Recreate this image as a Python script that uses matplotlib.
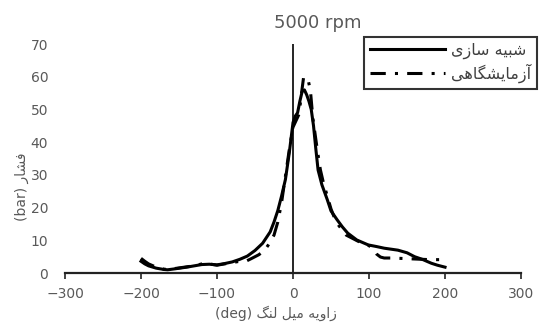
import matplotlib
matplotlib.use("Agg")
import matplotlib.pyplot as plt

plt.rcParams['font.family'] = ['DejaVu Sans']

# simple Persian shaping (matplotlib has no bidi / joining)
FORMS = {
    'ا': ('\uFE8D', '\uFE8E'), 'آ': ('\uFE81', '\uFE82'),
    'ز': ('\uFEAF', '\uFEB0'), 'ر': ('\uFEAD', '\uFEAE'),
    'و': ('\uFEED', '\uFEEE'),
    'ب': ('\uFE8F', '\uFE90', '\uFE91', '\uFE92'),
    'س': ('\uFEB1', '\uFEB2', '\uFEB3', '\uFEB4'),
    'ش': ('\uFEB5', '\uFEB6', '\uFEB7', '\uFEB8'),
    'ف': ('\uFED1', '\uFED2', '\uFED3', '\uFED4'),
    'ل': ('\uFEDD', '\uFEDE', '\uFEDF', '\uFEE0'),
    'م': ('\uFEE1', '\uFEE2', '\uFEE3', '\uFEE4'),
    'ن': ('\uFEE5', '\uFEE6', '\uFEE7', '\uFEE8'),
    'ه': ('\uFEE9', '\uFEEA', '\uFEEB', '\uFEEC'),
    'ی': ('\uFBFC', '\uFBFD', '\uFBFE', '\uFBFF'),
    'گ': ('\uFB92', '\uFB93', '\uFB94', '\uFB95'),
}


def fa(text):
    out = []
    for i, c in enumerate(text):
        if c not in FORMS:
            out.append(c)
            continue
        f = FORMS[c]
        prev = text[i-1] if i > 0 else ''
        nxt = text[i+1] if i < len(text)-1 else ''
        jp = prev in FORMS and len(FORMS[prev]) == 4
        jn = len(f) == 4 and nxt in FORMS
        if len(f) == 2:
            out.append(f[1] if jp else f[0])
        elif jp and jn:
            out.append(f[3])
        elif jp:
            out.append(f[1])
        elif jn:
            out.append(f[2])
        else:
            out.append(f[0])
    return ''.join(reversed(out))


sim_label = 'شبیه سازی'
exp_label = 'آزمایشگاهی'
x_title = 'زاویه میل لنگ'
y_title = 'فشار'

# simulation
sim_x = [-200, -195, -190, -180, -170, -165, -155, -140, -130, -120, -110, -100,
         -90, -80, -70, -60, -50, -40, -30, -25, -20, -15, -10, -5, 0, 3, 6, 9,
         12, 15, 18, 21, 24, 27, 30, 33, 38, 45, 50, 58, 65, 72, 84, 99, 110,
         120, 138, 150, 160, 170, 182, 190, 200]
sim_y = [3.6, 2.8, 2.2, 1.5, 1.1, 1.0, 1.3, 1.8, 2.2, 2.6, 2.7, 2.5,
         2.9, 3.4, 4.2, 5.2, 6.9, 9.1, 12.6, 15.6, 19.1, 23.6, 28.6, 36.6, 46.0, 48.0, 49.0, 52.5,
         55.5, 56.0, 54.5, 52.5, 50.0, 45.0, 38.0, 31.5, 27.0, 22.5, 19.0, 16.3, 14.1, 12.2, 10.1, 8.6, 8.1,
         7.6, 7.0, 6.2, 5.0, 4.2, 3.0, 2.4, 1.8]

# experiment
exp_x = [-200, -195, -190, -180, -170, -165, -155, -140, -130, -120, -110, -100,
         -90, -80, -70, -62, -55, -45, -38, -33, -25, -20, -15, -10, -5, 0, 4, 8,
         11, 14, 17, 20, 23, 26, 29, 32, 36, 40, 45, 50, 55, 60, 65, 70, 80, 90,
         100, 106, 110, 115, 120, 130, 140, 150, 160, 170, 180, 190, 200]
exp_y = [4.5, 3.6, 2.8, 1.8, 1.2, 1.1, 1.4, 1.9, 2.2, 2.8, 2.8, 2.4,
         2.8, 3.2, 3.6, 3.6, 4.4, 5.6, 6.8, 8.4, 11.6, 15.6, 21.6, 29.6, 37.6, 44.6, 46.6, 48.6,
         54.6, 60.0, 59.5, 59.0, 55.6, 47.6, 42.6, 37.6, 31.6, 27.6, 23.6, 19.6, 16.6, 14.6, 13.1, 11.6, 10.4, 9.2,
         8.4, 7.1, 5.8, 4.9, 4.6, 4.6, 4.5, 4.4, 4.3, 4.2, 4.1, 4.1, 4.1]

gray = '#595959'

fig = plt.figure(figsize=(5.41, 3.22), dpi=100)
ax = fig.add_axes([0.1201, 0.152, 0.843, 0.711])

ax.plot(sim_x, sim_y, color='black', lw=2.2, label=fa(sim_label))
ax.plot(exp_x, exp_y, color='black', lw=2.2, dashes=(5, 3, 1, 3), label=fa(exp_label))

ax.set_xlim(-300, 300)
ax.set_ylim(0, 70)
ax.set_xticks(range(-300, 301, 100))
ax.set_yticks(range(0, 71, 10))

for s in ['top', 'right', 'left']:
    ax.spines[s].set_visible(False)
ax.spines['bottom'].set_linewidth(1.6)
ax.spines['bottom'].set_color('#222222')
ax.axvline(0, color='black', lw=1.2, zorder=1)

ax.tick_params(axis='x', direction='out', length=4, width=1.2, color='#222222',
               labelsize=10, labelcolor=gray, pad=6)
ax.tick_params(axis='y', length=0, labelsize=10, labelcolor=gray, pad=12)

fig.text(0.587, 0.928, '5000 rpm', ha='center', va='center', fontsize=13, color=gray)
fig.text(0.51, 0.027, '(deg) ' + fa(x_title), ha='center', va='center', fontsize=10, color=gray)
fig.text(0.04, 0.42, '(bar) ' + fa(y_title), ha='center', va='center', fontsize=10,
         color=gray, rotation=90)

leg = fig.legend(loc='upper right', bbox_to_anchor=(0.993, 0.885), fontsize=11.5,
                 handlelength=4.7, frameon=True, fancybox=False, borderpad=0.35,
                 labelspacing=0.3, handletextpad=0.4, borderaxespad=0)
leg.get_frame().set_edgecolor('black')
leg.get_frame().set_linewidth(1.5)
for t in leg.get_texts():
    t.set_color('#404040')

fig.savefig('out.png', dpi=100)
